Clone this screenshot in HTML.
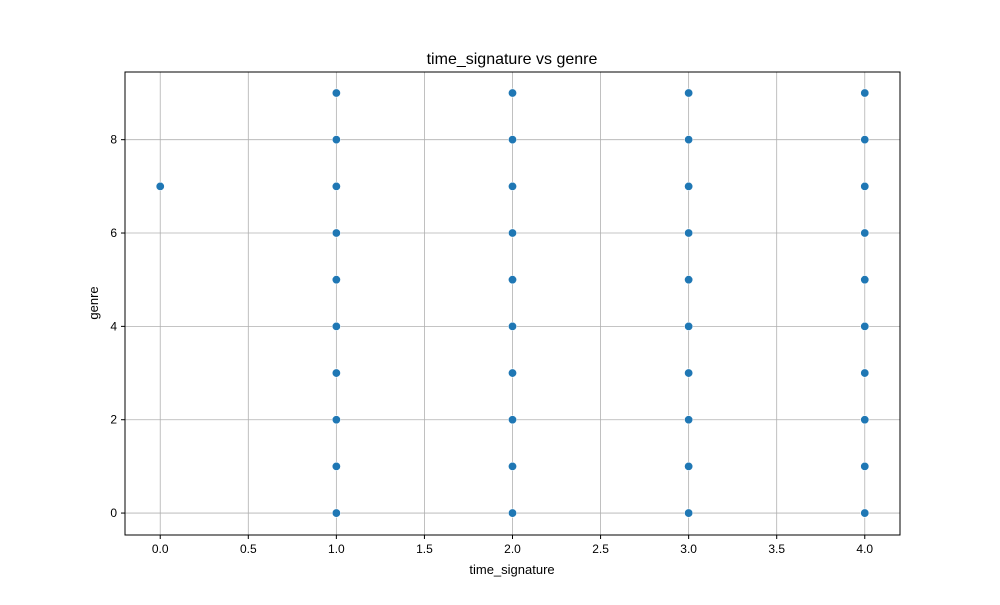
<!DOCTYPE html>
<html><head><meta charset="utf-8"><style>body{margin:0;background:#fff}svg text{font-family:"Liberation Sans","DejaVu Sans",sans-serif}</style></head>
<body>
<svg id="chart" width="1000" height="600" xmlns="http://www.w3.org/2000/svg">
<rect width="1000" height="600" fill="#fff"/>
<g id="grid"></g>
<g id="points"></g>
<rect x="125" y="72" width="775" height="463" fill="none" stroke="#000" stroke-width="1"/>
<g id="ticks"></g>
<text x="512" y="64" text-anchor="middle" font-size="16">time_signature vs genre</text>
<text x="512" y="574" text-anchor="middle" font-size="13">time_signature</text>
<text x="98" y="303" text-anchor="middle" font-size="13" transform="rotate(-90 98 303)">genre</text>
</svg>
<script>
const xValues=[0,1,1,1,1,1,1,1,1,1,1,2,2,2,2,2,2,2,2,2,2,3,3,3,3,3,3,3,3,3,3,4,4,4,4,4,4,4,4,4,4];
const yValues=[7,0,1,2,3,4,5,6,7,8,9,0,1,2,3,4,5,6,7,8,9,0,1,2,3,4,5,6,7,8,9,0,1,2,3,4,5,6,7,8,9];
const xTicks=[0,0.5,1,1.5,2,2.5,3,3.5,4];
const yTicks=[0,2,4,6,8];
const L=125,R=900,T=72,B=535,xMin=-0.2,xMax=4.2,yMin=-0.47,yMax=9.45;
const sx=v=>L+(v-xMin)/(xMax-xMin)*(R-L);
const sy=v=>B-(v-yMin)/(yMax-yMin)*(B-T);
const NS="http://www.w3.org/2000/svg";
const grid=document.getElementById('grid'),ticks=document.getElementById('ticks'),pts=document.getElementById('points');
function mk(tag,attrs,parent){const e=document.createElementNS(NS,tag);for(const k in attrs)e.setAttribute(k,attrs[k]);parent.appendChild(e);return e;}
xTicks.forEach(t=>{const x=sx(t);
 const g=mk('line',{x1:x,x2:x,y1:T,y2:B,stroke:'#b0b0b0','stroke-width':0.8},grid);
 
 
 mk('line',{x1:x,x2:x,y1:B,y2:B+4,stroke:'#000'},ticks);
 const tx=mk('text',{x:x,y:B+18,'text-anchor':'middle','font-size':12},ticks);tx.textContent=t.toFixed(1);
 
 
});
yTicks.forEach(t=>{const y=sy(t);
 const g=mk('line',{x1:L,x2:R,y1:y,y2:y,stroke:'#b0b0b0','stroke-width':0.8},grid);
 
 
 mk('line',{x1:L-4,x2:L,y1:y,y2:y,stroke:'#000'},ticks);
 const tx=mk('text',{x:L-8,y:y+4,'text-anchor':'end','font-size':12},ticks);tx.textContent=t;
 
 
});
xValues.forEach((v,i)=>{
 const c=mk('circle',{cx:sx(v),cy:sy(yValues[i]),r:4.2,fill:'#1f77b4',stroke:'#fff','stroke-width':0.6},pts);
 
 
});
</script>
</body></html>
